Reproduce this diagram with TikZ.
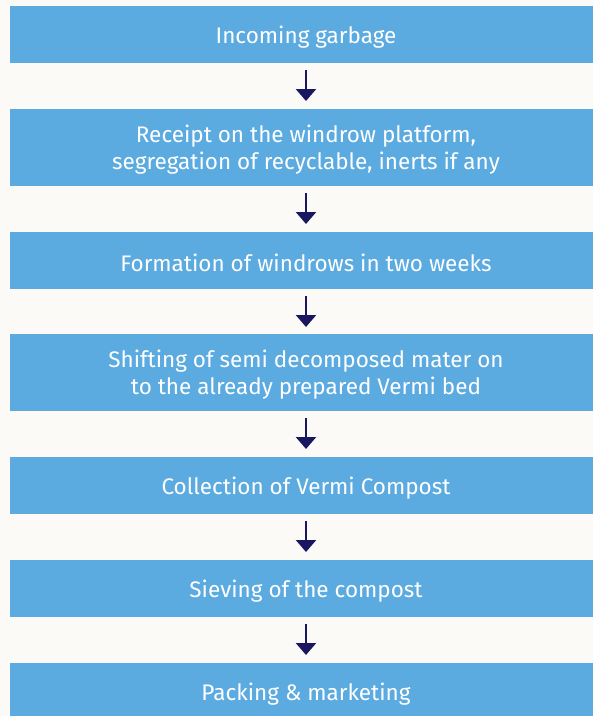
\documentclass[tikz,border=0pt]{standalone}
\usepackage{fontspec}
\setmainfont{Fira Sans}
\usetikzlibrary{arrows.meta}
\definecolor{boxblue}{HTML}{5BAAE0}
\definecolor{navy}{HTML}{1A1760}
\definecolor{bg}{HTML}{FCFAF7}
\tikzset{
  stepbox/.style={fill=boxblue, draw=none},
  steptext/.style={text=white, font=\fontsize{22.5}{27}\selectfont, align=center, inner sep=0pt},
  flowarrow/.style={draw=navy, line width=2.4pt, -{Triangle[length=12pt,width=20pt]}}
}
\begin{document}
\begin{tikzpicture}[x=1pt,y=-1pt]
\fill[bg] (0,0) rectangle (593,716);
\useasboundingbox (0,0) rectangle (593,716);
% boxes
\fill[stepbox] (10,6) rectangle (593,63);
\fill[stepbox] (10,109) rectangle (593,186);
\fill[stepbox] (10,232) rectangle (593,289);
\fill[stepbox] (10,334) rectangle (593,411);
\fill[stepbox] (10,457) rectangle (593,514);
\fill[stepbox] (10,560) rectangle (593,617);
\fill[stepbox] (10,663) rectangle (593,716);
% texts
\node[steptext] (t1) at (306,37) {Incoming garbage};
\node[steptext] (t2) at (306,150) {Receipt on the windrow platform,\\segregation of recyclable, inerts if any};
\node[steptext] (t3) at (306,263) {Formation of windrows in two weeks};
\node[steptext] (t4) at (306,375) {Shifting of semi decomposed mater on\\to the already prepared Vermi bed};
\node[steptext] (t5) at (306,488) {Collection of Vermi Compost};
\node[steptext] (t6) at (306,591) {Sieving of the compost};
\node[steptext] (t7) at (306,694) {Packing \& marketing};
% arrows
\coordinate (a1s) at (306,70); \coordinate (a1e) at (306,101);
\coordinate (a2s) at (306,193); \coordinate (a2e) at (306,224);
\coordinate (a3s) at (306,296); \coordinate (a3e) at (306,327);
\coordinate (a4s) at (306,418); \coordinate (a4e) at (306,449);
\coordinate (a5s) at (306,521); \coordinate (a5e) at (306,552);
\coordinate (a6s) at (306,624); \coordinate (a6e) at (306,655);
\draw[flowarrow] (a1s) -- (a1e);
\draw[flowarrow] (a2s) -- (a2e);
\draw[flowarrow] (a3s) -- (a3e);
\draw[flowarrow] (a4s) -- (a4e);
\draw[flowarrow] (a5s) -- (a5e);
\draw[flowarrow] (a6s) -- (a6e);
\end{tikzpicture}
\end{document}
